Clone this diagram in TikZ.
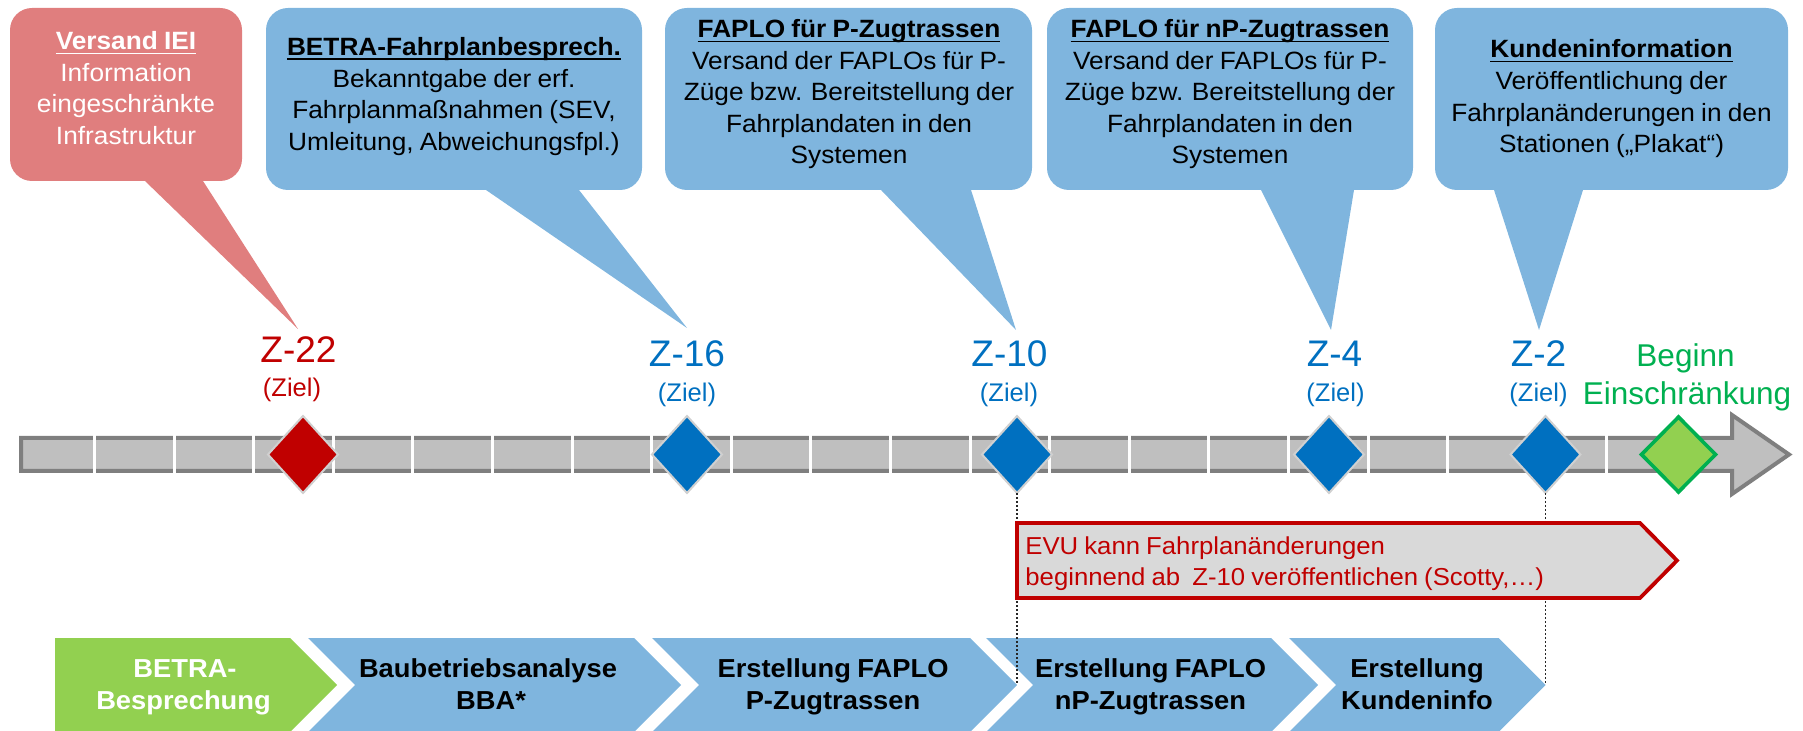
\documentclass[tikz,border=0pt]{standalone}
\usepackage{fontspec}
\setmainfont{Liberation Sans}
\newfontfamily\wfont{Liberation Sans}[FakeStretch=1.05,WordSpace=0.85]
\definecolor{callred}{HTML}{E07E7E}
\definecolor{callblue}{HTML}{7FB5DE}
\definecolor{zred}{HTML}{C00000}
\definecolor{zblue}{HTML}{0070C0}
\definecolor{zgreen}{HTML}{00B050}
\definecolor{lgreen}{HTML}{92D050}
\definecolor{barfill}{HTML}{BFBFBF}
\definecolor{barline}{HTML}{7F7F7F}
\definecolor{evufill}{HTML}{D9D9D9}
\definecolor{diaedge}{HTML}{D0D0D0}
\newcommand\myul[1]{\setbox0=\hbox{#1}\rlap{\rule[-2.2pt]{\wd0}{0.9pt}}\box0}
\begin{document}
\begin{tikzpicture}[x=0.5pt,y=-0.5pt,
  ctext/.style={inner sep=0pt,anchor=base,font={\wfont\fontsize{12.5}{14}\selectfont}},
  chtext/.style={inner sep=0pt,anchor=base,font={\wfont\bfseries\fontsize{13}{15}\selectfont}},
  evutext/.style={inner sep=0pt,anchor=base west,text=zred,font={\wfont\fontsize{12.25}{14}\selectfont}},
  zlab/.style={inner sep=0pt,anchor=base,font={\fontsize{18.5}{22}\selectfont}},
  ziel/.style={inner sep=0pt,anchor=base,font={\fontsize{12.75}{15}\selectfont}},
  beg/.style={inner sep=0pt,anchor=base,text=zgreen,font={\fontsize{15.75}{18}\selectfont}},
  bar/.style={fill=barfill,draw=barline,line width=2pt,line join=miter},
  dia/.style={draw=diaedge,line width=1pt,line join=miter},
  chevshape/.style={fill=callblue},
  dotline/.style={draw=black!85,line width=0.8pt,dash pattern=on 1pt off 1pt},
  evubox/.style={fill=evufill,draw=zred,line width=1.9pt,line join=miter}
]
\useasboundingbox (0,0) rectangle (1803,731);

% ---- callout bubbles
\coordinate (tipA) at (298,329);
\coordinate (tipB) at (687,328);
\coordinate (tipC) at (1016,330);
\coordinate (tipD) at (1331,330);
\coordinate (tipE) at (1539,330);
\fill[callred,rounded corners=11pt] (10,8) rectangle (242,181);
\fill[callred] (145,181) -- (tipA) -- (203,181) -- (203,170) -- (145,170) -- cycle;
\fill[callblue,rounded corners=11pt] (266,8) rectangle (642,190);
\fill[callblue] (486,190) -- (tipB) -- (579,190) -- (579,178) -- (486,178) -- cycle;
\fill[callblue,rounded corners=11pt] (665,8) rectangle (1032,190);
\fill[callblue] (881,190) -- (tipC) -- (971,190) -- (971,178) -- (881,178) -- cycle;
\fill[callblue,rounded corners=11pt] (1047,8) rectangle (1413,190);
\fill[callblue] (1261,190) -- (tipD) -- (1354,190) -- (1354,178) -- (1261,178) -- cycle;
\fill[callblue,rounded corners=11pt] (1435,8) rectangle (1788,190);
\fill[callblue] (1494,190) -- (tipE) -- (1583,190) -- (1583,178) -- (1494,178) -- cycle;

% ---- callout texts
\node[ctext,text=white] (a1) at (126,50) {\myul{\bfseries Versand IEI}};
\node[ctext,text=white] (a2) at (126,82) {Information};
\node[ctext,text=white] (a3) at (126,113) {eingeschränkte};
\node[ctext,text=white] (a4) at (126,145) {Infrastruktur};

\node[ctext] (b1) at (454,55.5) {\myul{\bfseries BETRA-Fahrplanbesprech.}};
\node[ctext] (b2) at (454,87.5) {Bekanntgabe der erf.};
\node[ctext] (b3) at (454,119) {Fahrplanmaßnahmen (SEV,};
\node[ctext] (b4) at (454,150.5) {Umleitung, Abweichungsfpl.)};

\node[ctext] (c1) at (849,38) {\myul{\bfseries FAPLO für P-Zugtrassen}};
\node[ctext] (c2) at (849,69.5) {Versand der FAPLOs für P-};
\node[ctext] (c3) at (849,101) {Züge bzw. Bereitstellung der};
\node[ctext] (c4) at (849,132.5) {Fahrplandaten in den};
\node[ctext] (c5) at (849,164) {Systemen};

\node[ctext] (d1) at (1230,38) {\myul{\bfseries FAPLO für nP-Zugtrassen}};
\node[ctext] (d2) at (1230,69.5) {Versand der FAPLOs für P-};
\node[ctext] (d3) at (1230,101) {Züge bzw. Bereitstellung der};
\node[ctext] (d4) at (1230,132.5) {Fahrplandaten in den};
\node[ctext] (d5) at (1230,164) {Systemen};

\node[ctext] (e1) at (1611.5,58) {\myul{\bfseries Kundeninformation}};
\node[ctext] (e2) at (1611.5,90) {Veröffentlichung der};
\node[ctext] (e3) at (1611.5,121.5) {Fahrplanänderungen in den};
\node[ctext] (e4) at (1611.5,153) {Stationen („Plakat“)};

% ---- timeline bar
\draw[bar] (21,438) -- (1732,438) -- (1732,415) -- (1789,454.5) -- (1732,494) -- (1732,471) -- (21,471) -- cycle;
\foreach \k in {0,...,20} \draw[white,line width=1.5pt] ({94.5+79.6*\k},434) -- ++(0,41);

% ---- milestones
\coordinate (m22) at (303,454.5);
\coordinate (m16) at (687,454.5);
\coordinate (m10) at (1017,454.5);
\coordinate (m4) at (1329,454.5);
\coordinate (m2) at (1545.5,454.5);
\coordinate (mB) at (1678.5,454.5);
\foreach \m/\c in {m22/zred,m16/zblue,m10/zblue,m4/zblue,m2/zblue}
  \draw[dia,fill=\c] (\m) ++(0,-38.5) -- ++(35,38.5) -- ++(-35,38.5) -- ++(-35,-38.5) -- cycle;
\draw[fill=lgreen,draw=zgreen,line width=1.8pt,line join=miter] (mB) ++(0,-37.5) -- ++(37,37.5) -- ++(-37,37.5) -- ++(-37,-37.5) -- cycle;

\node[zlab,text=zred] (z22) at (298.5,363) {Z-22};
\node[ziel,text=zred] (z22z) at (292,397) {(Ziel)};
\node[zlab,text=zblue] (z16) at (687,367) {Z-16};
\node[ziel,text=zblue] (z16z) at (687,401.5) {(Ziel)};
\node[zlab,text=zblue] (z10) at (1009.5,367) {Z-10};
\node[ziel,text=zblue] (z10z) at (1009,401.5) {(Ziel)};
\node[zlab,text=zblue] (z4) at (1334.5,367) {Z-4};
\node[ziel,text=zblue] (z4z) at (1335.5,401.5) {(Ziel)};
\node[zlab,text=zblue] (z2) at (1538.5,367) {Z-2};
\node[ziel,text=zblue] (z2z) at (1538.5,401.5) {(Ziel)};
\node[beg] (bg1) at (1685.5,367) {Beginn};
\node[beg] (bg2) at (1687,405) {Einschränkung};

% ---- process chevrons
\coordinate (t3) at (1017,685);
\coordinate (t5) at (1545.5,685);
\fill[lgreen] (55,638) -- (290,638) -- (337,685) -- (290,732) -- (55,732) -- cycle;
\fill[chevshape] (308,638) -- (634,638) -- (681,685) -- (634,732) -- (308,732) -- (355,685) -- cycle;
\fill[chevshape] (652,638) -- (970,638) -- (t3) -- (970,732) -- (652,732) -- (699,685) -- cycle;
\fill[chevshape] (986,638) -- (1271,638) -- (1318,685) -- (1271,732) -- (986,732) -- (1033,685) -- cycle;
\fill[chevshape] (1289,638) -- (1498.5,638) -- (t5) -- (1498.5,732) -- (1289,732) -- (1336,685) -- cycle;

\node[chtext,text=white] (p1a) at (185,677) {BETRA-};
\node[chtext,text=white] (p1b) at (183.5,709) {Besprechung};
\node[chtext] (p2a) at (488,677) {Baubetriebsanalyse};
\node[chtext] (p2b) at (491,709) {BBA*};
\node[chtext] (p3a) at (833,677) {Erstellung FAPLO};
\node[chtext] (p3b) at (833,709) {P-Zugtrassen};
\node[chtext] (p4a) at (1150.5,677) {Erstellung FAPLO};
\node[chtext] (p4b) at (1150.5,709) {nP-Zugtrassen};
\node[chtext] (p5a) at (1417,677) {Erstellung};
\node[chtext] (p5b) at (1417,709) {Kundeninfo};

% ---- dotted guide lines
\coordinate (m10b) at (1017,493);
\coordinate (m2b) at (1545.5,493);
\draw[dotline] (m10b) -- (t3);
\draw[dotline] (m2b) -- (t5);

% ---- EVU box
\draw[evubox] (1017,523) -- (1640,523) -- (1677,560.5) -- (1640,598) -- (1017,598) -- cycle;
\node[evutext] (v1) at (1025,554) {EVU kann Fahrplanänderungen};
\node[evutext] (v2) at (1025,585) {beginnend ab\ \ Z-10 veröffentlichen (Scotty,…)};
\end{tikzpicture}
\end{document}
